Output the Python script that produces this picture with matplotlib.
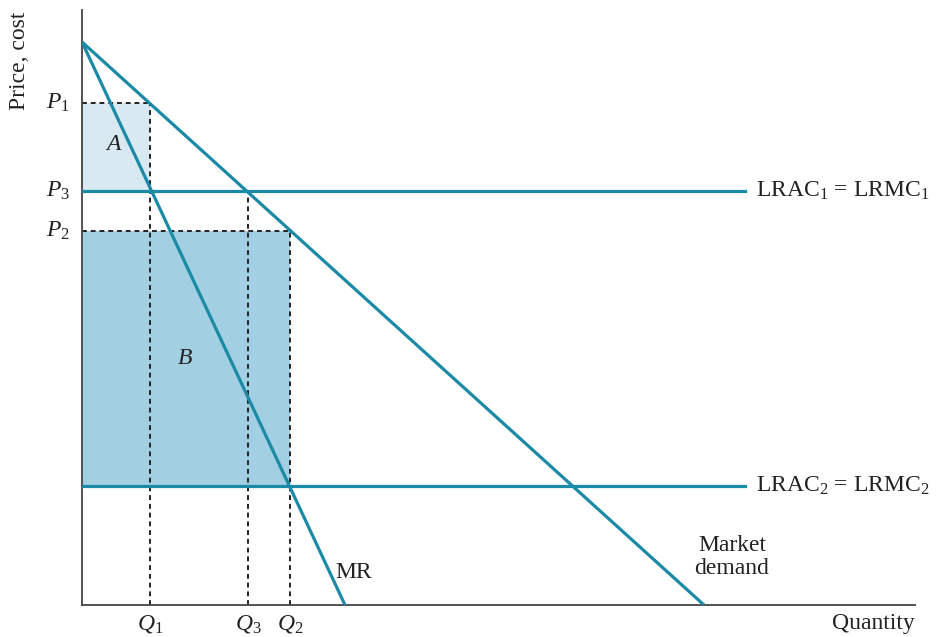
import matplotlib
matplotlib.use("Agg")
import matplotlib.pyplot as plt
import numpy as np

plt.rcParams['font.family'] = ['Liberation Serif', 'DejaVu Serif']
plt.rcParams['mathtext.fontset'] = 'custom'
plt.rcParams['mathtext.rm'] = 'Liberation Serif'
plt.rcParams['mathtext.it'] = 'Liberation Serif:italic'

# Data (arbitrary units)
demand_x = [0, 622]
demand_y = [563, 0]
mr_x = [0, 263]
mr_y = [563, 0]
lrac1 = 414
lrac2 = 119
q_vals = {'Q1': 68, 'Q3': 166, 'Q2': 208}
p_vals = {'P1': 502, 'P3': 414, 'P2': 374}
line_end = 663

teal = '#1a8aa6'
fig = plt.figure(figsize=(9.49, 6.37), dpi=100)
W, H = 949, 637
ax = fig.add_axes([82 / W, (637 - 605) / H, (915 - 82) / W, (605 - 10) / H])
ax.set_xlim(0, 833)
ax.set_ylim(0, 595)
for s in ['top', 'right']:
    ax.spines[s].set_visible(False)
for s in ['left', 'bottom']:
    ax.spines[s].set_color('#444444')
    ax.spines[s].set_linewidth(1.3)
ax.set_xticks([])
ax.set_yticks([])

# shaded regions
ax.fill_between([0, q_vals['Q1']], p_vals['P3'], p_vals['P1'], color='#d8e9f2', lw=0, zorder=1)
ax.fill_between([0, q_vals['Q2']], lrac2, p_vals['P2'], color='#a3cfe2', lw=0, zorder=1)

# dashed guides
dash = dict(color='#222222', lw=1.4, ls=(0, (2.5, 2)), zorder=2)
ax.plot([0, q_vals['Q1']], [p_vals['P1']] * 2, **dash)
ax.plot([q_vals['Q1']] * 2, [0, p_vals['P1']], **dash)
ax.plot([0, q_vals['Q2']], [p_vals['P2']] * 2, **dash)
ax.plot([q_vals['Q2']] * 2, [0, p_vals['P2']], **dash)
ax.plot([q_vals['Q3']] * 2, [0, lrac1], **dash)

# main lines
lw = 2.3
ax.plot(demand_x, demand_y, color=teal, lw=lw, zorder=3, solid_capstyle='butt')
ax.plot(mr_x, mr_y, color=teal, lw=lw, zorder=3, solid_capstyle='butt')
ax.plot([0, line_end], [lrac1] * 2, color=teal, lw=lw, zorder=3)
ax.plot([0, line_end], [lrac2] * 2, color=teal, lw=lw, zorder=3)

fs = 17
tc = '#222222'
ax.text(line_end + 11, lrac1, r'LRAC$_1$ = LRMC$_1$', fontsize=fs, va='center', ha='left', color=tc)
ax.text(line_end + 11, lrac2, r'LRAC$_2$ = LRMC$_2$', fontsize=fs, va='center', ha='left', color=tc)
ax.text(253, 33, 'MR', fontsize=fs, va='center', ha='left', color=tc)
ax.text(650, 48, 'Market\ndemand', fontsize=fs, va='center', ha='center', color=tc, linespacing=1.15)
ax.text(32, 460, r'$A$', fontsize=fs, va='center', ha='center', color=tc)
ax.text(103, 246, r'$B$', fontsize=fs, va='center', ha='center', color=tc)

for lab, v in p_vals.items():
    ax.text(-12, v, r'$P_%s$' % lab[1], fontsize=fs, va='center', ha='right', color=tc)
for lab, v in q_vals.items():
    ax.text(v, -8, r'$Q_%s$' % lab[1], fontsize=fs, va='top', ha='center', color=tc)

fig.text(915 / W, 1 - 623 / H, 'Quantity', fontsize=fs, va='center', ha='right', color=tc)
fig.text(20 / W, 1 - 61 / H, 'Price, cost', fontsize=fs, va='center', ha='center', rotation=90, color=tc)

fig.savefig('out.png', dpi=100)
